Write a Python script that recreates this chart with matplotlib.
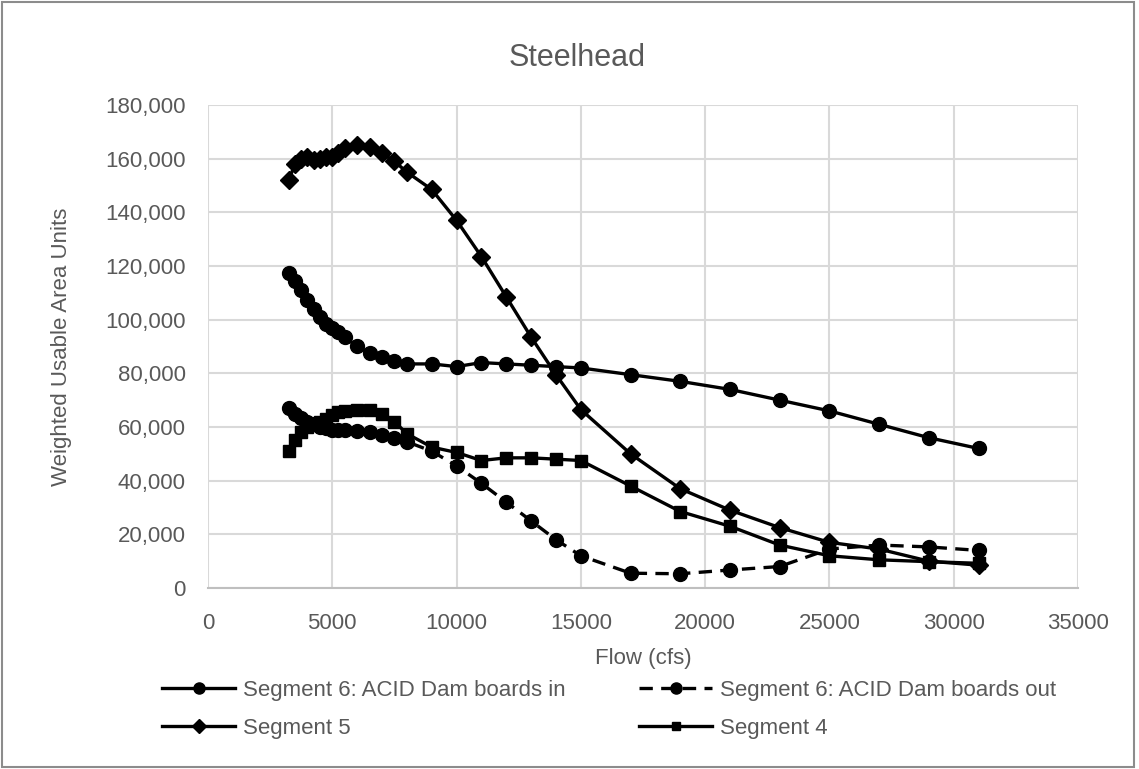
import matplotlib.pyplot as plt
from matplotlib.patches import Rectangle
from matplotlib.ticker import FuncFormatter

plt.rcParams['font.family'] = ['Liberation Sans', 'DejaVu Sans']

# Flow values (cfs)
flow = [3250, 3500, 3750, 4000, 4250, 4500, 4750, 5000, 5250, 5500,
        6000, 6500, 7000, 7500, 8000, 9000, 10000, 11000, 12000, 13000,
        14000, 15000, 17000, 19000, 21000, 23000, 25000, 27000, 29000, 31000]

seg6_in = [117500, 114500, 111000, 107500, 104000, 101000, 98500, 97000, 95500, 93500,
           90000, 87500, 86000, 84500, 83500, 83500, 82500, 84000, 83500, 83000,
           82500, 82000, 79500, 77000, 74000, 70000, 66000, 61000, 56000, 52000]

seg6_out = [67000, 65000, 63500, 62000, 61000, 60000, 59500, 59000, 59000, 59000,
            58500, 58000, 57000, 56000, 54500, 51000, 45500, 39000, 32000, 25000,
            18000, 12000, 5500, 5300, 6700, 8000, 14500, 16000, 15300, 14000]

seg5 = [152000, 158000, 160000, 160500, 159500, 160000, 160500, 160500, 162000, 164000,
        165000, 164500, 162000, 159000, 155000, 148500, 137000, 123500, 108500, 93500,
        79500, 66500, 50000, 37000, 29000, 22500, 17000, 14500, 10000, 8500]

seg4 = [51000, 55000, 58000, 60000, 61000, 62000, 63000, 64500, 65500, 66000,
        66500, 66500, 65000, 62000, 57500, 52500, 50500, 47500, 48500, 48500,
        48000, 47500, 38000, 28500, 23000, 16000, 12000, 10500, 9800, 9200]

series_names = ['Segment 6: ACID Dam boards in', 'Segment 6: ACID Dam boards out',
                'Segment 5', 'Segment 4']

fig = plt.figure(figsize=(11.39, 7.69), dpi=100)
ax = fig.add_axes([0.1826, 0.2354, 0.7638, 0.6281])

txt = '#595959'
lw = 2.4

l_in, = ax.plot(flow, seg6_in, color='black', lw=lw, marker='o', ms=10)
l_out, = ax.plot(flow, seg6_out, color='black', lw=lw, ls=(0, (4, 2.5)), marker='o', ms=10)
l5, = ax.plot(flow, seg5, color='black', lw=lw, marker='D', ms=9)
l4, = ax.plot(flow, seg4, color='black', lw=lw, marker='s', ms=8)

ax.set_xlim(0, 35000)
ax.set_ylim(0, 180000)
ax.set_xticks(range(0, 35001, 5000))
ax.set_yticks(range(0, 180001, 20000))
ax.yaxis.set_major_formatter(FuncFormatter(lambda v, p: f'{int(v):,}'))
ax.grid(True, color='#d9d9d9', lw=1.5)
ax.set_axisbelow(True)
for s in ['top', 'right', 'left']:
    ax.spines[s].set_visible(False)
ax.spines['bottom'].set_color('#bfbfbf')
ax.spines['bottom'].set_linewidth(1.5)
ax.tick_params(length=0, labelsize=16, labelcolor=txt)
ax.tick_params(axis='x', pad=18)
ax.tick_params(axis='y', pad=16)

fig.text(0.507, 0.925, 'Steelhead', fontsize=22, color=txt, ha='center', va='center')
ax.set_xlabel('Flow (cfs)', fontsize=16, color=txt, labelpad=10)
ax.set_ylabel('Weighted Usable Area Units', fontsize=16, color=txt, labelpad=24)

# row-wise legend order: fill columns so rows read in, out / 5, 4
fig.legend([l_in, l5, l_out, l4],
           [series_names[0], series_names[2], series_names[1], series_names[3]],
           loc='upper left', bbox_to_anchor=(162 / 1139, 1 - 680 / 769), ncol=2,
           frameon=False, borderpad=0, borderaxespad=0, fontsize=16,
           handlelength=3.3, columnspacing=3.3, labelcolor=txt, markerscale=0.8,
           handletextpad=0.35, labelspacing=0.75)

fig.patches.append(Rectangle((0.002, 0.002), 0.994, 0.996, transform=fig.transFigure,
                             fill=False, edgecolor='#8c8c8c', lw=1.5))

fig.savefig('out.png', dpi=100)
